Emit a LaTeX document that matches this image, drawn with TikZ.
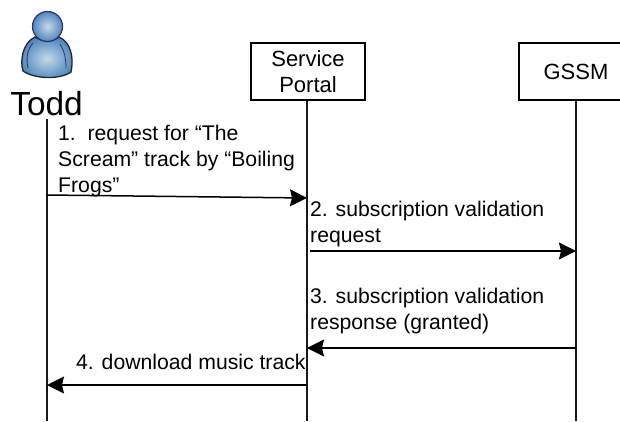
\documentclass[tikz,border=0pt]{standalone}
\usepackage{fontspec}
\setmainfont{Liberation Sans}
\usetikzlibrary{arrows.meta}
\usetikzlibrary{positioning}
\tikzset{
    actor/.style = {draw, minimum width=114pt, minimum height=57pt, align=center, line width=1.2pt,
                 font=\fontsize{22}{26}\selectfont},
    msg/.style = {anchor=north west, align=left, inner sep=0pt,
                 font=\fontsize{21.2}{26}\selectfont},
    lifeline/.style = {line width=1.5pt, black!90},
    call/.style = {line width=1.5pt, black, -{Stealth[length=17pt,width=17pt,inset=2pt]}},
}
\definecolor{iconblue}{RGB}{80,135,190}
\definecolor{iconlight}{RGB}{196,216,232}
\definecolor{iconline}{RGB}{45,50,110}

\begin{document}
\begin{tikzpicture}[x=1pt,y=-1pt]
 \useasboundingbox (0,0) rectangle (620,421);
 \clip (0,0) rectangle (620,421);
 % icon
 \draw[line width=1.3pt, draw=black!85, inner color=iconlight, outer color=iconblue]
   (35,37) .. controls (22,43) and (20,62) .. (23,71)
   .. controls (34,79) and (60,80) .. (71,72)
   .. controls (74,58) and (71,42) .. (59,37)
   .. controls (52,42) and (42,42) .. (35,37) -- cycle;
 \draw[line width=0.8pt, iconline] (33,43) .. controls (27,50) and (26,58) .. (28,68);
 \draw[line width=0.8pt, iconline] (60,44) .. controls (64,50) and (66,58) .. (66,68);
 \draw[line width=1.2pt, draw=iconline, inner color=iconlight, outer color=iconblue] (47.5,26.5) circle (15);
 \node (todd) [inner sep=0pt, font=\fontsize{33.4}{33}\selectfont] at (46.5,104) {Todd};
 \node (n1) [actor] at (308,71.5) {Service\\Portal};
 \node (n2) [actor] at (576,71.5) {GSSM};
 \coordinate (t0) at (47,119);
 \coordinate (t1) at (47,195);
 \coordinate (t2) at (47,385);
 \coordinate (t3) at (47,421);
 \coordinate (p1) at (307,198);
 \coordinate (p2) at (310,251);
 \coordinate (p3) at (307,348);
 \coordinate (p4) at (307,385);
 \coordinate (p5) at (307,421);
 \coordinate (g1) at (576,251);
 \coordinate (g2) at (576,348);
 \coordinate (g3) at (576,421);
 \draw[lifeline] (t0) to (t3);
 \draw[lifeline] (n1.south -| p5) to (p5);
 \draw[lifeline] (n2.south) to (g3);

 \node (m1) [msg] at (58,125) {1.\ \ request for “The\\Scream” track by “Boiling\\Frogs”};
 \node (m2) [msg] at (310,201) {2. subscription validation\\request};
 \node (m3) [msg] at (310,288) {3. subscription validation\\response (granted)};
 \node (m4) [msg] at (76,354) {4. download music track};

 \draw[call] (t1) to (p1);
 \draw[call] (p2) to (g1);
 \draw[call] (g2) to (p3);
 \draw[call] (p4) to (t2);
\end{tikzpicture}
\end{document}
